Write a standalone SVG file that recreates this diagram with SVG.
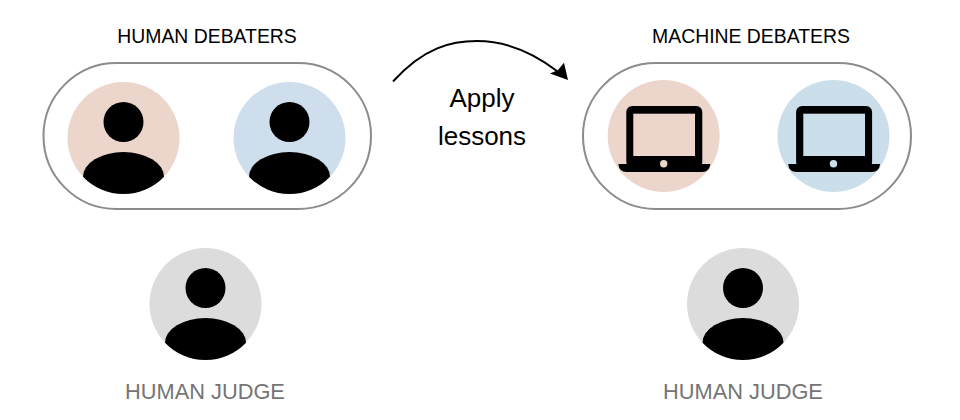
<svg xmlns="http://www.w3.org/2000/svg" width="960" height="420" viewBox="0 0 960 420">
<style>
text{font-family:"Liberation Sans",Arial,sans-serif;text-anchor:middle}
.head{font-size:19.400px;fill:#000}
.judge{font-size:21.800px;fill:#757575}
.lesson{font-size:26px;fill:#000}
.pill{fill:#fff;stroke:#8c8c8c;stroke-width:2}
.peach{fill:#ecd6cc}.blue{fill:#cfdeed}.lblue{fill:#cbdfea}.grey{fill:#dcdcdc}
</style>
<defs>
<g id="person"><circle cx="0" cy="-16" r="20"/><path d="M-40.500 38.700A40.500 24.700 0 0 1 40.500 38.700A56 56 0 0 1 -40.500 38.700Z"/></g>
<g id="laptop"><rect x="-37.700" y="-30" width="76" height="62" rx="6"/><path d="M-45.700 28H46.300Q45.300 36 38.300 36H-37.700Q-44.700 36 -45.700 28Z"/></g>
</defs>
<g id="connectors">
<path d="M393 81.500C424 47 452 41 477 41C508 41 536 55 557 71" fill="none" stroke="#000" stroke-width="2"/>
<path d="M568 80L550 73.500L558 70L564 62.700Z" fill="#000"/>
</g>
<g id="human-debaters">
<rect class="pill" x="43.500" y="63" width="327.500" height="146" rx="73"/>
<text class="head" x="207" y="42.500">HUMAN DEBATERS</text>
</g>
<g id="human-debater-1"><circle class="peach" cx="123.500" cy="138" r="56"/><use href="#person" x="123.500" y="138"/></g>
<g id="human-debater-2"><circle class="blue" cx="289.500" cy="138" r="56"/><use href="#person" x="289.500" y="138"/></g>
<g id="machine-debaters">
<rect class="pill" x="583" y="63" width="328" height="146" rx="73"/>
<text class="head" x="751" y="42.500">MACHINE DEBATERS</text>
</g>
<g id="machine-debater-1"><circle class="peach" cx="663.700" cy="136" r="56"/><use href="#laptop" x="664" y="136"/><rect class="peach" x="633.300" y="113.700" width="61.700" height="42.300"/><circle class="peach" cx="663.700" cy="163.700" r="3.700"/></g>
<g id="machine-debater-2"><circle class="lblue" cx="833.500" cy="136" r="56"/><use href="#laptop" x="833.800" y="136"/><rect class="lblue" x="803.300" y="113.700" width="61.700" height="42.300"/><circle class="lblue" cx="833.500" cy="163.700" r="3.700"/></g>
<g id="apply-lessons"><text class="lesson" x="482" y="107">Apply</text><text class="lesson" x="482" y="145">lessons</text></g>
<g id="judge-left"><circle class="grey" cx="205.500" cy="304" r="56"/><use href="#person" x="205.500" y="304"/><text class="judge" x="205" y="399">HUMAN JUDGE</text></g>
<g id="judge-right"><circle class="grey" cx="743" cy="304" r="56"/><use href="#person" x="743" y="304"/><text class="judge" x="743" y="399">HUMAN JUDGE</text></g>
</svg>
